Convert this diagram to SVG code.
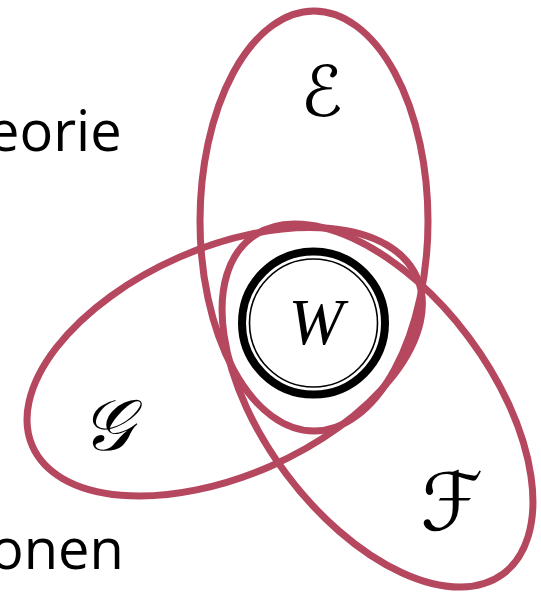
<svg xmlns="http://www.w3.org/2000/svg" width="541" height="593" viewBox="0 0 541 593">
<style>
.set{fill:none;stroke:#b5475f;stroke-width:7}
.lbl{font-family:"Open Sans","Noto Sans",sans-serif;font-size:56px;fill:#000}
.math{font-family:"DejaVu Serif","DejaVu Sans",serif;font-style:italic;fill:#000}
</style>
<rect width="541" height="593" fill="#fff"/>
<g id="label-theorie"><text class="lbl" x="-12" y="151">eorie</text></g>
<g id="label-onen"><text class="lbl" x="-10" y="569">onen</text></g>
<g id="connectors"></g>
<g id="E"><ellipse class="set" cx="314" cy="221" rx="114" ry="210"/><text class="math" x="322" y="116" font-size="70" text-anchor="middle">ℰ</text></g>
<g id="G"><ellipse class="set" cx="224.7" cy="361.8" rx="210" ry="114" transform="rotate(-23.7 224.7 361.8)"/><text class="math" x="106" y="450" font-size="72" text-anchor="middle">𝒢</text></g>
<g id="F"><ellipse class="set" cx="377.5" cy="405.6" rx="210" ry="114" transform="rotate(53.2 377.5 405.6)"/><text class="math" x="452" y="530" font-size="80" text-anchor="middle">ℱ</text></g>
<g id="W"><circle cx="313.5" cy="323" r="71.5" fill="#fff" stroke="#000" stroke-width="8"/><circle cx="313.5" cy="323" r="64" fill="none" stroke="#000" stroke-width="1.6"/><text x="316" y="344" font-family="Liberation Serif,serif" font-style="italic" font-size="66" text-anchor="middle">W</text></g>
</svg>
